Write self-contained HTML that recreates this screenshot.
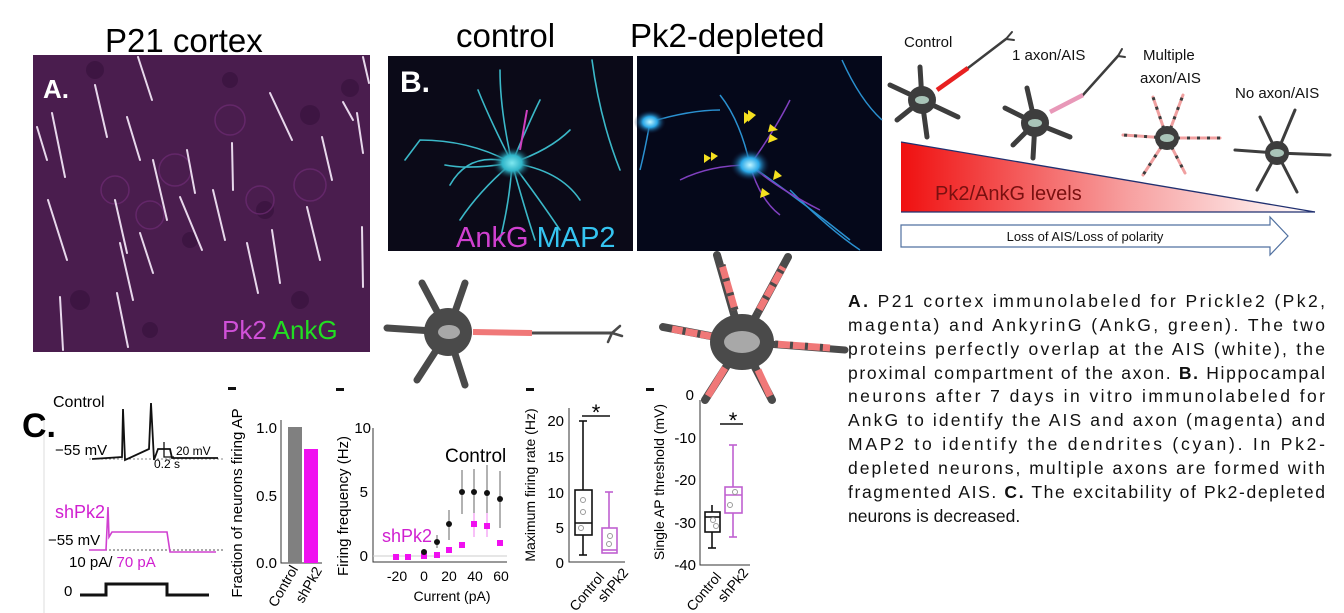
<!DOCTYPE html>
<html><head><meta charset="utf-8"><style>
html,body{margin:0;padding:0;background:#fff;}
svg{display:block;font-family:"Liberation Sans",sans-serif;}
</style></head><body>
<svg width="1344" height="613" viewBox="0 0 1344 613" xmlns="http://www.w3.org/2000/svg">
<defs>
<linearGradient id="tri" x1="0" x2="1" y1="0" y2="0">
<stop offset="0" stop-color="#f01010"/><stop offset="0.55" stop-color="#f7a0a0"/><stop offset="1" stop-color="#ffffff"/>
</linearGradient>
<radialGradient id="cell1" cx="0.5" cy="0.5" r="0.5"><stop offset="0" stop-color="#7fe8f0"/><stop offset="0.5" stop-color="#2fb4c8"/><stop offset="1" stop-color="#0a2030" stop-opacity="0"/></radialGradient>
<radialGradient id="cell2" cx="0.5" cy="0.5" r="0.5"><stop offset="0" stop-color="#bff4ff"/><stop offset="0.45" stop-color="#2aa8e8"/><stop offset="1" stop-color="#0a1030" stop-opacity="0"/></radialGradient>
</defs>

<text x="105" y="52" font-size="33">P21 cortex</text>
<text x="456" y="47" font-size="33">control</text>
<text x="630" y="47" font-size="33">Pk2-depleted</text>

<rect x="33" y="55" width="337" height="297" fill="#4a1d4e"/>
<g fill="#3a1440" opacity="0.8">
<circle cx="95" cy="70" r="9"/><circle cx="230" cy="80" r="8"/><circle cx="350" cy="88" r="9"/><circle cx="310" cy="115" r="10"/><circle cx="190" cy="240" r="8"/><circle cx="80" cy="300" r="10"/><circle cx="265" cy="210" r="9"/><circle cx="150" cy="330" r="8"/><circle cx="300" cy="300" r="9"/>
</g>
<g fill="none" stroke="#6a2a70" stroke-width="1.5" opacity="0.8">
<circle cx="230" cy="120" r="15"/><circle cx="175" cy="170" r="16"/><circle cx="310" cy="185" r="16"/><circle cx="115" cy="190" r="14"/><circle cx="260" cy="200" r="14"/><circle cx="150" cy="215" r="14"/>
</g>
<g stroke="#e8d8ec" stroke-width="2" stroke-linecap="round">
<line x1="52" y1="113" x2="65" y2="177"/><line x1="95" y1="85" x2="107" y2="137"/><line x1="138" y1="57" x2="152" y2="100"/>
<line x1="127" y1="117" x2="140" y2="160"/><line x1="153" y1="160" x2="167" y2="220"/><line x1="187" y1="150" x2="195" y2="193"/>
<line x1="232" y1="143" x2="233" y2="190"/><line x1="270" y1="93" x2="292" y2="140"/><line x1="48" y1="200" x2="67" y2="260"/>
<line x1="115" y1="200" x2="127" y2="253"/><line x1="180" y1="197" x2="202" y2="250"/><line x1="213" y1="190" x2="225" y2="240"/>
<line x1="247" y1="243" x2="258" y2="293"/><line x1="272" y1="230" x2="280" y2="283"/><line x1="307" y1="207" x2="320" y2="260"/>
<line x1="357" y1="113" x2="363" y2="153"/><line x1="362" y1="227" x2="363" y2="287"/><line x1="117" y1="293" x2="128" y2="347"/>
<line x1="60" y1="297" x2="63" y2="350"/><line x1="140" y1="233" x2="153" y2="273"/><line x1="37" y1="127" x2="47" y2="160"/>
<line x1="322" y1="137" x2="332" y2="180"/><line x1="363" y1="57" x2="369" y2="83"/><line x1="120" y1="243" x2="133" y2="300"/>
<line x1="343" y1="102" x2="353" y2="120"/>
</g>
<text x="43" y="98" font-size="26" font-weight="bold" fill="#fff">A.</text>
<text x="222" y="339" font-size="26"><tspan fill="#d050d8">Pk2</tspan><tspan fill="#22dd22"> AnkG</tspan></text>

<rect x="388" y="56" width="245" height="195" fill="#0b0a18"/>
<g stroke="#3bb8c8" stroke-width="1.6" fill="none" stroke-linecap="round">
<path d="M512 163 Q470 140 420 140 L405 160"/><path d="M512 163 Q490 120 478 90"/><path d="M512 163 Q500 110 500 70"/>
<path d="M512 163 Q530 120 540 100"/><path d="M512 163 Q550 150 570 130"/><path d="M512 163 Q560 170 580 200"/>
<path d="M512 163 Q540 200 560 230"/><path d="M512 163 Q510 200 500 240"/><path d="M512 163 Q480 190 460 220"/>
<path d="M512 163 Q470 170 445 165"/><path d="M512 163 Q470 150 450 185"/><path d="M512 163 Q525 210 535 240"/>
<path d="M592 60 Q600 120 620 170"/>
</g>
<path d="M520 150 L527 110" stroke="#d040c0" stroke-width="2"/>
<ellipse cx="512" cy="163" rx="20" ry="16" fill="url(#cell1)"/>
<text x="400" y="92" font-size="30" font-weight="bold" fill="#fff">B.</text>
<text x="456" y="247" font-size="29"><tspan fill="#d040d0">AnkG</tspan><tspan fill="#35c4f0"> MAP2</tspan></text>

<rect x="637" y="56" width="245" height="195" fill="#05081a"/>
<g stroke="#2a90d0" stroke-width="1.5" fill="none">
<path d="M750 165 Q800 200 850 240"/><path d="M750 165 Q740 120 720 95"/><path d="M650 122 Q690 110 720 110"/>
<path d="M650 122 Q645 150 640 170"/><path d="M842 60 Q860 100 882 120"/><path d="M790 190 Q830 230 860 250"/>
</g>
<g stroke="#8040c0" stroke-width="1.5" fill="none">
<path d="M750 165 Q775 130 790 100"/><path d="M750 165 Q710 165 680 180"/><path d="M750 165 Q780 190 820 210"/><path d="M750 165 Q760 200 780 215"/>
</g>
<ellipse cx="650" cy="122" rx="16" ry="12" fill="url(#cell2)"/>
<ellipse cx="750" cy="165" rx="20" ry="16" fill="url(#cell2)"/>
<g fill="#f5e020">
<polygon points="744,112 752,117 744,124"/><polygon points="748,110 756,115 748,122"/>
<polygon points="770,124 778,130 768,132"/><polygon points="770,134 778,139 768,143"/>
<polygon points="704,154 711,158 704,163"/><polygon points="711,152 718,156 711,161"/>
<polygon points="775,170 782,176 773,180"/><polygon points="762,188 770,194 760,198"/>
</g>

<g stroke="#3d3d3d" stroke-linecap="round">
<line x1="922" y1="100" x2="920" y2="67" stroke-width="5"/><line x1="922" y1="100" x2="890" y2="85" stroke-width="5"/>
<line x1="922" y1="100" x2="897" y2="120" stroke-width="5"/><line x1="922" y1="100" x2="927" y2="137" stroke-width="5"/>
<line x1="922" y1="100" x2="958" y2="117" stroke-width="5"/>
<line x1="968" y1="68" x2="1006" y2="39" stroke-width="2.5"/><line x1="1006" y1="39" x2="1012" y2="32" stroke-width="2"/><line x1="1006" y1="39" x2="1014" y2="40" stroke-width="2"/>
<line x1="1035" y1="123" x2="1027" y2="88" stroke-width="5"/><line x1="1035" y1="123" x2="1005" y2="108" stroke-width="5"/>
<line x1="1035" y1="123" x2="1013" y2="145" stroke-width="5"/><line x1="1035" y1="123" x2="1033" y2="158" stroke-width="5"/>
<line x1="1035" y1="123" x2="1070" y2="137" stroke-width="5"/>
<line x1="1083" y1="95" x2="1118" y2="56" stroke-width="2.5"/><line x1="1118" y1="56" x2="1122" y2="49" stroke-width="2"/><line x1="1118" y1="56" x2="1125" y2="57" stroke-width="2"/>
<line x1="1277" y1="153" x2="1260" y2="117" stroke-width="3"/><line x1="1277" y1="153" x2="1295" y2="110" stroke-width="3"/>
<line x1="1277" y1="153" x2="1235" y2="150" stroke-width="3"/><line x1="1277" y1="153" x2="1330" y2="155" stroke-width="3"/>
<line x1="1277" y1="153" x2="1297" y2="192" stroke-width="3"/><line x1="1277" y1="153" x2="1257" y2="190" stroke-width="3"/>
</g>
<line x1="937" y1="90" x2="968" y2="68" stroke="#e82020" stroke-width="4.5"/>
<line x1="1050" y1="112" x2="1083" y2="95" stroke="#e898b8" stroke-width="4.5"/>
<g stroke="#f0a0a0" stroke-width="3" stroke-linecap="round">
<line x1="1167" y1="138" x2="1183" y2="95"/><line x1="1167" y1="138" x2="1153" y2="97"/><line x1="1167" y1="138" x2="1123" y2="135"/>
<line x1="1167" y1="138" x2="1220" y2="138"/><line x1="1167" y1="138" x2="1185" y2="173"/><line x1="1167" y1="138" x2="1143" y2="175"/>
</g>
<g stroke="#3d3d3d" stroke-width="3" stroke-dasharray="3 7">
<line x1="1167" y1="138" x2="1183" y2="95"/><line x1="1167" y1="138" x2="1153" y2="97"/><line x1="1167" y1="138" x2="1123" y2="135"/>
<line x1="1167" y1="138" x2="1220" y2="138"/><line x1="1167" y1="138" x2="1185" y2="173"/><line x1="1167" y1="138" x2="1143" y2="175"/>
</g>
<g fill="#3d3d3d">
<circle cx="922" cy="100" r="14"/><circle cx="1035" cy="123" r="14"/><circle cx="1167" cy="138" r="12"/><circle cx="1277" cy="153" r="12"/>
</g>
<g fill="#a9c4b8">
<ellipse cx="922" cy="100" rx="7" ry="4"/><ellipse cx="1035" cy="123" rx="7" ry="4"/><ellipse cx="1167" cy="138" rx="7" ry="4"/><ellipse cx="1277" cy="153" rx="7" ry="4"/>
</g>
<g font-size="15" fill="#111">
<text x="904" y="47">Control</text>
<text x="1012" y="60">1 axon/AIS</text>
<text x="1143" y="60">Multiple</text>
<text x="1140" y="83">axon/AIS</text>
<text x="1235" y="98">No axon/AIS</text>
</g>
<polygon points="901,142 901,212 1315,212" fill="url(#tri)"/>
<line x1="901" y1="142" x2="1315" y2="212" stroke="#203070" stroke-width="1.3"/>
<line x1="901" y1="212" x2="1315" y2="212" stroke="#203070" stroke-width="1.3"/>
<text x="935" y="200" font-size="20" fill="#7a1010">Pk2/AnkG levels</text>
<polygon points="901,225 1270,225 1270,217 1288,236 1270,255 1270,247 901,247" fill="#fff" stroke="#5070a0" stroke-width="1.2"/>
<text x="1085" y="241" font-size="13" text-anchor="middle" fill="#111">Loss of AIS/Loss of polarity</text>

<g stroke="#4a4a4a" stroke-linecap="round">
<line x1="448" y1="332" x2="422" y2="283" stroke-width="7"/><line x1="448" y1="332" x2="465" y2="283" stroke-width="7"/>
<line x1="448" y1="332" x2="387" y2="328" stroke-width="7"/><line x1="448" y1="332" x2="417" y2="380" stroke-width="7"/>
<line x1="448" y1="332" x2="465" y2="385" stroke-width="7"/>
<line x1="532" y1="333" x2="612" y2="333" stroke-width="3"/>
<line x1="612" y1="333" x2="620" y2="326" stroke-width="2.5"/><line x1="612" y1="333" x2="622" y2="336" stroke-width="2.5"/><line x1="612" y1="333" x2="608" y2="342" stroke-width="2.5"/>
<line x1="742" y1="342" x2="717" y2="255" stroke-width="8"/><line x1="742" y1="342" x2="788" y2="257" stroke-width="8"/>
<line x1="742" y1="342" x2="663" y2="327" stroke-width="8"/><line x1="742" y1="342" x2="845" y2="350" stroke-width="7"/>
<line x1="742" y1="342" x2="705" y2="400" stroke-width="8"/><line x1="742" y1="342" x2="772" y2="400" stroke-width="8"/>
</g>
<line x1="473" y1="332" x2="532" y2="333" stroke="#f07878" stroke-width="6"/>
<g stroke="#f07878" stroke-width="7">
<line x1="735" y1="310" x2="722" y2="265"/><line x1="758" y1="312" x2="783" y2="267"/>
<line x1="715" y1="337" x2="672" y2="329"/><line x1="775" y1="344" x2="830" y2="348"/>
<line x1="725" y1="368" x2="708" y2="396"/><line x1="758" y1="370" x2="770" y2="396"/>
</g>
<g stroke="#4a4a4a" stroke-width="7" stroke-dasharray="3 12">
<line x1="735" y1="310" x2="722" y2="265"/><line x1="758" y1="312" x2="783" y2="267"/>
<line x1="715" y1="337" x2="672" y2="329"/><line x1="775" y1="344" x2="830" y2="348"/>
</g>
<circle cx="448" cy="332" r="24" fill="#4a4a4a"/>
<ellipse cx="449" cy="332" rx="11" ry="7" fill="#a8a8a8"/>
<ellipse cx="742" cy="342" rx="32" ry="28" fill="#4a4a4a"/>
<ellipse cx="742" cy="342" rx="18" ry="11" fill="#a8a8a8"/>

<g font-size="17.5" fill="#111" lengthAdjust="spacing">
<text x="848" y="307" textLength="477"><tspan font-weight="bold">A.</tspan> P21 cortex immunolabeled for Prickle2 (Pk2,</text>
<text x="848" y="331" textLength="477">magenta) and AnkyrinG (AnkG, green). The two</text>
<text x="848" y="355" textLength="477">proteins perfectly overlap at the AIS (white), the</text>
<text x="848" y="379" textLength="477">proximal compartment of the axon. <tspan font-weight="bold">B.</tspan> Hippocampal</text>
<text x="848" y="402" textLength="477">neurons after 7 days in vitro immunolabeled for</text>
<text x="848" y="426" textLength="477">AnkG to identify the AIS and axon (magenta) and</text>
<text x="848" y="450" textLength="477">MAP2 to identify the dendrites (cyan). In Pk2-</text>
<text x="848" y="474" textLength="477">depleted neurons, multiple axons are formed with</text>
<text x="848" y="498" textLength="477">fragmented AIS. <tspan font-weight="bold">C.</tspan> The excitability of Pk2-depleted</text>
<text x="848" y="522">neurons is decreased.</text>
</g>

<line x1="44" y1="420" x2="44" y2="613" stroke="#ddd" stroke-width="1"/>
<text x="22" y="437" font-size="34" font-weight="bold">C.</text>
<text x="53" y="407" font-size="16">Control</text>
<text x="55" y="455" font-size="15">−55 mV</text>
<line x1="89" y1="459" x2="225" y2="459" stroke="#888" stroke-width="1" stroke-dasharray="2 2"/>
<polyline points="92,459 122,457 123,409 125,460 149,449 151,403 154,460 158,449 170,449 172,458 218,458" fill="none" stroke="#111" stroke-width="1.8"/>
<polyline points="164,442 164,457 174,457" fill="none" stroke="#111" stroke-width="1.3"/>
<text x="176" y="455" font-size="12">20 mV</text>
<text x="154" y="468" font-size="12">0.2 s</text>
<text x="55" y="518" font-size="18" fill="#d020d0">shPk2</text>
<text x="48" y="545" font-size="15">−55 mV</text>
<line x1="89" y1="550" x2="225" y2="550" stroke="#555" stroke-width="1" stroke-dasharray="2 2"/>
<polyline points="89,550 106,550 108,507 109,537 112,532 167,532 170,552 216,552" fill="none" stroke="#d040d0" stroke-width="1.6"/>
<text x="69" y="567" font-size="15">10 pA/ <tspan fill="#d020d0">70 pA</tspan></text>
<text x="64" y="596" font-size="15">0</text>
<polyline points="80,595 106,595 106,584 167,584 167,595 209,595" fill="none" stroke="#111" stroke-width="3"/>

<rect x="228" y="387" width="8" height="3" fill="#111"/>
<text transform="translate(242,503) rotate(-90)" font-size="15" text-anchor="middle">Fraction of neurons firing AP</text>
<g font-size="15" text-anchor="end"><text x="277" y="433">1.0</text><text x="277" y="501">0.5</text><text x="277" y="568">0.0</text></g>
<polyline points="281,420 281,563 322,563" fill="none" stroke="#333" stroke-width="1"/>
<rect x="288" y="427" width="14" height="136" fill="#808080"/>
<rect x="304" y="449" width="14" height="114" fill="#f010f0"/>
<text transform="translate(276,608) rotate(-60)" font-size="14">Control</text>
<text transform="translate(303,604) rotate(-60)" font-size="14">shPk2</text>

<rect x="336" y="388" width="8" height="3" fill="#111"/>
<text transform="translate(348,506) rotate(-90)" font-size="15" text-anchor="middle">Firing frequency (Hz)</text>
<g font-size="15" text-anchor="end"><text x="371" y="433">10</text><text x="368" y="497">5</text><text x="368" y="561">0</text></g>
<polyline points="373,428 373,562 507,562" fill="none" stroke="#333" stroke-width="1"/>
<line x1="373" y1="556" x2="507" y2="556" stroke="#ccc" stroke-width="1"/>
<g font-size="14" text-anchor="middle"><text x="397" y="581">-20</text><text x="424" y="581">0</text><text x="449" y="581">20</text><text x="475" y="581">40</text><text x="501" y="581">60</text></g>
<text x="452" y="601" font-size="14" text-anchor="middle">Current (pA)</text>
<text x="445" y="462" font-size="19">Control</text>
<text x="382" y="542" font-size="18" fill="#d020d0">shPk2</text>
<g stroke="#666" stroke-width="1">
<line x1="437" y1="535" x2="437" y2="548"/><line x1="449" y1="510" x2="449" y2="540"/><line x1="462" y1="470" x2="462" y2="514"/>
<line x1="474" y1="469" x2="474" y2="514"/><line x1="487" y1="465" x2="487" y2="523"/><line x1="500" y1="471" x2="500" y2="528"/>
<line x1="474" y1="513" x2="474" y2="537" stroke="#f080f0"/><line x1="487" y1="513" x2="487" y2="537" stroke="#f080f0"/>
</g>
<g fill="#f010f0">
<rect x="393" y="554" width="6" height="6"/><rect x="405" y="554" width="6" height="6"/><rect x="421" y="553" width="6" height="6"/>
<rect x="434" y="552" width="6" height="6"/><rect x="446" y="547" width="6" height="6"/><rect x="459" y="542" width="6" height="6"/>
<rect x="471" y="521" width="6" height="6"/><rect x="484" y="523" width="6" height="6"/><rect x="497" y="540" width="6" height="6"/>
</g>
<g fill="#111">
<circle cx="424" cy="552" r="3"/><circle cx="437" cy="542" r="3"/><circle cx="449" cy="524" r="3"/><circle cx="462" cy="492" r="3"/>
<circle cx="474" cy="492" r="3"/><circle cx="487" cy="493" r="3"/><circle cx="500" cy="499" r="3"/>
</g>

<rect x="526" y="388" width="8" height="3" fill="#111"/>
<text transform="translate(535,485) rotate(-90)" font-size="14" text-anchor="middle">Maximum firing rate (Hz)</text>
<g font-size="15" text-anchor="end"><text x="564" y="426">20</text><text x="564" y="462">15</text><text x="564" y="498">10</text><text x="564" y="533">5</text><text x="564" y="568">0</text></g>
<polyline points="569,408 569,562 625,562" fill="none" stroke="#333" stroke-width="1"/>
<g fill="none" stroke="#111" stroke-width="1.6">
<line x1="583" y1="421" x2="583" y2="555"/><rect x="575" y="490" width="17" height="45" fill="#fff"/><line x1="575" y1="523" x2="592" y2="523"/>
<line x1="579" y1="421" x2="587" y2="421"/><line x1="579" y1="555" x2="587" y2="555"/>
</g>
<g fill="none" stroke="#c060d0" stroke-width="1.6">
<line x1="609" y1="492" x2="609" y2="553"/><rect x="602" y="528" width="15" height="25" fill="#fff"/><line x1="602" y1="550" x2="617" y2="550"/>
<line x1="605" y1="492" x2="613" y2="492"/>
</g>
<g fill="none" stroke="#999" stroke-width="1"><circle cx="583" cy="500" r="2.5"/><circle cx="583" cy="512" r="2.5"/><circle cx="581" cy="528" r="2.5"/><circle cx="610" cy="536" r="2.5"/><circle cx="609" cy="544" r="2.5"/></g>
<line x1="582" y1="416" x2="610" y2="416" stroke="#111" stroke-width="1.5"/>
<text x="596" y="420" font-size="22" text-anchor="middle">*</text>
<text transform="translate(576,612) rotate(-50)" font-size="14">Control</text>
<text transform="translate(604,603) rotate(-50)" font-size="14">shPk2</text>

<rect x="646" y="388" width="8" height="3" fill="#111"/>
<text transform="translate(664,482) rotate(-90)" font-size="14" text-anchor="middle">Single AP threshold (mV)</text>
<g font-size="15" text-anchor="end"><text x="694" y="400">0</text><text x="696" y="443">-10</text><text x="696" y="485">-20</text><text x="696" y="528">-30</text><text x="696" y="570">-40</text></g>
<polyline points="700,400 700,565 750,565" fill="none" stroke="#333" stroke-width="1"/>
<g fill="none" stroke="#111" stroke-width="1.6">
<line x1="712" y1="505" x2="712" y2="548"/><rect x="705" y="512" width="15" height="20" fill="#fff"/><line x1="705" y1="517" x2="720" y2="517"/>
<line x1="708" y1="548" x2="716" y2="548"/>
</g>
<g fill="none" stroke="#c060d0" stroke-width="1.6">
<line x1="733" y1="445" x2="733" y2="537"/><rect x="725" y="487" width="17" height="26" fill="#fff"/><line x1="725" y1="495" x2="742" y2="495"/>
<line x1="729" y1="445" x2="737" y2="445"/><line x1="729" y1="537" x2="737" y2="537"/>
</g>
<g fill="none" stroke="#999" stroke-width="1"><circle cx="713" cy="520" r="2.5"/><circle cx="716" cy="526" r="2.5"/><circle cx="735" cy="492" r="2.5"/><circle cx="730" cy="505" r="2.5"/></g>
<line x1="720" y1="424" x2="743" y2="424" stroke="#111" stroke-width="1.5"/>
<text x="733" y="428" font-size="22" text-anchor="middle">*</text>
<text transform="translate(693,612) rotate(-50)" font-size="14">Control</text>
<text transform="translate(724,603) rotate(-50)" font-size="14">shPk2</text>
</svg>
</body></html>
